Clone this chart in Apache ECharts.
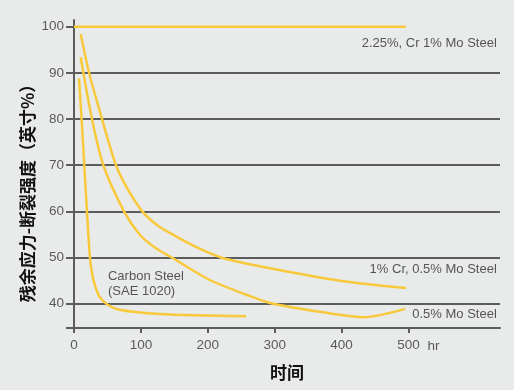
<!DOCTYPE html>
<html><head><meta charset="utf-8">
<script src="https://cdn.jsdelivr.net/npm/echarts@6/dist/echarts.min.js"></script>
<style>html,body{margin:0;padding:0;background:#e9ebea}#c{width:514px;height:390px}</style>
</head><body><div id="c"></div>
<script>
// ---- data ----
const xTicks = [0, 100, 200, 300, 400, 500];
const yTicks = [40, 50, 60, 70, 80, 90, 100];
const xUnit = 'hr';
const xTitle = '时间';
const yTitle = '残余应力-断裂强度（英寸%）';
const crMo225 = [[0, 100], [496, 100]];
const cr1Mo05 = [[10, 98.4], [22.9, 89.8], [41.9, 80], [62.8, 70], [80.7, 64.7], [102.7, 59.9], [125.6, 56.9], [152.5, 54.6], [185.4, 52.1], [222.3, 49.9], [293, 47.7], [397.6, 45], [496.3, 43.4]];
const mo05 = [[10, 93.4], [14.2, 89.8], [26.9, 80], [43.8, 70], [75.2, 59.9], [98.7, 54.9], [122.6, 52], [147.5, 49.9], [202.2, 45.2], [257.1, 42], [297.9, 40], [397.6, 37.6], [432.4, 37.1], [494.8, 38.9]];
const carbon = [[7.5, 88.8], [10.5, 82], [15.4, 70], [19.4, 59.9], [23.9, 49.9], [26.9, 46.7], [30.3, 44.5], [37.8, 41.6], [50.4, 39.8], [67.7, 38.7], [127.5, 37.8], [257.1, 37.3]];
const seriesNames = ['2.25%, Cr 1% Mo Steel', '1% Cr, 0.5% Mo Steel', '0.5% Mo Steel', 'Carbon Steel\n(SAE 1020)'];
// annotation anchors in data coordinates
const annoPos = [[632, 96.3], [632, 47.4], [632, 37.6], [50.8, 44.3]];
const annoAlign = ['right', 'right', 'right', 'left'];

const X_MIN = 0, X_MAX = 636.8, Y_MIN = 34.75, Y_MAX = 101.45;
const gridColor = '#5c5c5c';
const yellow = '#f9c93c';
const font = '"Liberation Sans", Arial, sans-serif';
const cjk = '"Noto Sans CJK SC", sans-serif';

const chart = echarts.init(document.getElementById('c'), null, {renderer: 'canvas'});
function lineSeries(name, data) {
  return {
    name, type: 'line', data, smooth: 0.3, symbol: 'none', silent: true,
    lineStyle: {color: yellow, width: 2.5}
  };
}
const option = {
  backgroundColor: '#e9ebea',
  animation: false,
  grid: {left: 74, right: 14, top: 20, bottom: 62},
  xAxis: {
    type: 'value', min: X_MIN, max: X_MAX,
    axisLine: {show: true, onZero: false, lineStyle: {color: gridColor, width: 2}},
    axisTick: {show: true, customValues: xTicks, length: 5, lineStyle: {color: gridColor, width: 2}},
    axisLabel: {customValues: xTicks, margin: 10, color: '#5a5a5a', fontSize: 13.5, fontFamily: font},
    splitLine: {show: false}
  },
  yAxis: {
    type: 'value', min: Y_MIN, max: Y_MAX,
    axisLine: {show: true, onZero: false, lineStyle: {color: gridColor, width: 2}},
    axisTick: {show: true, customValues: [Y_MIN].concat(yTicks), length: 8, lineStyle: {color: gridColor, width: 2}},
    axisLabel: {customValues: yTicks, margin: 10, color: '#5a5a5a', fontSize: 13.5, fontFamily: font},
    splitLine: {show: true, showMinLine: false, showMaxLine: false, lineStyle: {color: gridColor, width: 2}}
  },
  series: [
    lineSeries(seriesNames[0], crMo225),
    lineSeries(seriesNames[1], cr1Mo05),
    lineSeries(seriesNames[2], mo05),
    lineSeries(seriesNames[3], carbon)
  ]
};
chart.setOption(option);

const g = [];
seriesNames.forEach((t, i) => {
  const p = chart.convertToPixel({gridIndex: 0}, annoPos[i]);
  g.push({type: 'text', x: p[0], y: p[1], silent: true,
    style: {text: t, fill: '#555', font: '13px ' + font, textAlign: annoAlign[i], textVerticalAlign: 'middle', lineHeight: 15}});
});
const hp = chart.convertToPixel({gridIndex: 0}, [xTicks[xTicks.length - 1], Y_MIN]);
g.push({type: 'text', x: hp[0] + 19, y: hp[1] + 18, silent: true,
  style: {text: xUnit, fill: '#5a5a5a', font: '13.5px ' + font, textAlign: 'left', textVerticalAlign: 'middle'}});
g.push({type: 'text', x: 287, y: 373, silent: true,
  style: {text: xTitle, fill: '#111', font: 'bold 17px ' + cjk, textAlign: 'center', textVerticalAlign: 'middle'}});
g.push({type: 'text', x: 28, y: 189, rotation: Math.PI / 2, silent: true,
  style: {text: yTitle, fill: '#111', font: 'bold 17px ' + cjk, textAlign: 'center', textVerticalAlign: 'middle'}});
chart.setOption({graphic: g});
</script>
</body></html>
